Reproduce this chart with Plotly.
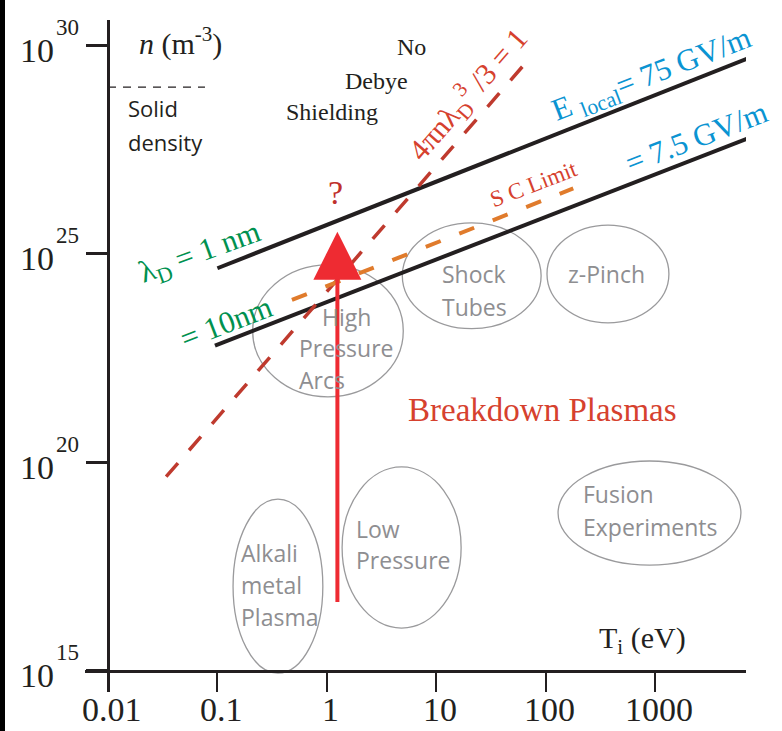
import math
import plotly.graph_objects as go

# ---------------- data (T in eV, n in m^-3) ----------------
x_tick_vals = [0.01, 0.1, 1, 10, 100, 1000]
x_tick_labels = ["0.01", "0.1", "1", "10", "100", "1000"]
y_tick_vals = [1e15, 1e20, 1e25, 1e30]
y_tick_exps = ["15", "20", "25", "30"]

lam1_T = [0.1, 7100]          # lambda_D = 1 nm  (E_local = 75 GV/m)
lam1_n = [4.5e24, 4.9e29]
lam10_T = [0.095, 8500]       # lambda_D = 10 nm (E_local = 7.5 GV/m)
lam10_n = [6.3e22, 7.1e27]
debye_T = [0.034, 69.5]       # 4 pi n lambda_D^3 / 3 = 1
debye_n = [4.5e19, 4.5e29]
sc_T = [0.48, 179]            # space-charge limit
sc_n = [7.8e23, 3.7e26]
solid_T = [0.01, 0.077]       # solid density
solid_n = [1e29, 1e29]
arrow_T = [1.25, 1.25]        # breakdown arrow
arrow_n = [4.1e16, 3.4e25]

region_names = ["High Pressure Arcs", "Shock Tubes", "z-Pinch",
                "Alkali metal Plasma", "Low Pressure", "Fusion Experiments"]
region_T_lo = [0.21, 4.9, 103, 0.139, 1.38, 130]
region_T_hi = [5.0, 91, 1340, 0.92, 16.9, 6100]
region_n_lo = [3.7e21, 1.6e23, 2.2e23, 8.7e14, 1.05e16, 3.4e17]
region_n_hi = [5.4e24, 5.5e25, 4.9e25, 1.3e19, 7.7e19, 1.07e20]

# ---------------- layout calibration (pixels) ----------------
W, H = 782, 731
X0PX, XDEC = 108.0, 109.4     # pixel of T=0.01, pixels per decade
Y15PX, YDEC = 670.6, 41.68    # pixel of n=1e15, pixels per decade


def lx(px):
    return -2 + (px - X0PX) / XDEC


def ly(py):
    return 15 + (Y15PX - py) / YDEC


def fx(px):
    return px / W


def fy(py):
    return 1 - py / H


SERIF = "Liberation Serif"
SANS = "Open Sans"
INK = "#231f20"
GRAY = "#8e8e91"
GREEN = "#00914f"
BLUE = "#0a94d2"
RED_T = "#d6412e"

fig = go.Figure()


def line(T, n, color, width, dash="solid"):
    fig.add_trace(go.Scatter(x=T, y=n, mode="lines", cliponaxis=False,
                             line=dict(color=color, width=width, dash=dash),
                             showlegend=False, hoverinfo="skip"))


line(solid_T, solid_n, INK, 1.4, "8px,7px")
line(lam1_T, lam1_n, INK, 4)
line(lam10_T, lam10_n, INK, 4)
line(debye_T, debye_n, "#bf3a2e", 3.5, "18px,17px")
line(sc_T, sc_n, "#e07b2c", 4, "16px,20px")

shapes = []
for i in range(len(region_names)):
    shapes.append(dict(type="circle", xref="x", yref="y", layer="below",
                       x0=region_T_lo[i], x1=region_T_hi[i],
                       y0=region_n_lo[i], y1=region_n_hi[i],
                       line=dict(color="#9a9a9c", width=1.3)))
# black border strip at the left edge
shapes.append(dict(type="rect", xref="paper", yref="paper", x0=0, x1=fx(5),
                   y0=0, y1=1, fillcolor="black", line=dict(width=0)))

ann = []


def text(t, px, py, size, color, family=SERIF, angle=0, xanchor="center"):
    ann.append(dict(text=t, x=fx(px), y=fy(py), xref="paper", yref="paper",
                    showarrow=False, textangle=angle, xanchor=xanchor,
                    yanchor="middle", font=dict(family=family, size=size, color=color)))


# x tick labels
for v, t in zip(x_tick_vals, x_tick_labels):
    ann.append(dict(text=t, x=math.log10(v), y=fy(709), xref="x", yref="paper",
                    showarrow=False, xanchor="center", yanchor="middle", xshift=4,
                    font=dict(family=SERIF, size=34, color=INK)))

# y tick labels 10^k
for v, e in zip(y_tick_vals, y_tick_exps):
    ann.append(dict(text="10", x=fx(56), y=math.log10(v), xref="paper", yref="y",
                    showarrow=False, xanchor="right", yanchor="middle", yshift=-5,
                    font=dict(family=SERIF, size=34, color=INK)))
    ann.append(dict(text=e, x=fx(54), y=math.log10(v), xref="paper", yref="y",
                    showarrow=False, xanchor="left", yanchor="middle", yshift=18,
                    font=dict(family=SERIF, size=23, color=INK)))

# axis arrow heads
ann.append(dict(text="", x=lx(756), y=15, xref="x", yref="y", ax=-26, ay=0,
                showarrow=True, arrowhead=3, arrowsize=1.45, arrowwidth=3,
                arrowcolor=INK))
ann.append(dict(text="", x=-2, y=ly(7), xref="x", yref="y", ax=0, ay=26,
                showarrow=True, arrowhead=3, arrowsize=1.45, arrowwidth=3,
                arrowcolor=INK))
# breakdown arrow
ann.append(dict(text="", x=math.log10(arrow_T[1]), y=math.log10(arrow_n[1]),
                ax=math.log10(arrow_T[0]), ay=math.log10(arrow_n[0]),
                xref="x", yref="y", axref="x", ayref="y", showarrow=True,
                arrowhead=2, arrowsize=2.4, arrowwidth=4, arrowcolor="#ee2b32"))

# axis titles
text("<i>n</i> (m<sup>-3</sup>)", 180, 41, 30, INK)
text("T<sub>i</sub> (eV)", 597, 640, 30, INK, xanchor="left")

# region labels
text("No", 411, 47, 24, INK)
text("Debye", 376, 81, 24, INK)
text("Shielding", 332, 112, 24, INK)
text("Solid", 126, 108, 22, INK, SANS, xanchor="left")
text("density", 126, 142, 22, INK, SANS, xanchor="left")
text("?", 335, 192, 34, "#c0302b")
text("Breakdown Plasmas", 542, 410, 33, RED_T)

# rotated labels
text("λ<sub>D</sub> = 1 nm", 200, 254, 31, GREEN, angle=-20)
text("= 10nm", 226, 322, 31, GREEN, angle=-21)
text("E <sub>local</sub>= 75 GV/m", 652, 76, 31, BLUE, angle=-21)
text("= 7.5 GV/m", 696, 138, 31, BLUE, angle=-21)
text("4πnλ<sub>D</sub><sup>3</sup> /3 = 1", 468, 95, 30, RED_T, angle=-49)
text("S C Limit", 533, 184, 23, RED_T, angle=-21)

# ellipse labels
for t, px, py in [("High", 320, 317), ("Pressure", 297, 348), ("Arcs", 297, 380),
                  ("Shock", 440, 274), ("Tubes", 440, 307), ("z-Pinch", 566, 274),
                  ("Alkali", 239, 553), ("metal", 239, 585), ("Plasma", 239, 617),
                  ("Low", 354, 529), ("Pressure", 354, 560),
                  ("Fusion", 581, 494), ("Experiments", 581, 527)]:
    text(t, px, py, 23, GRAY, SANS, xanchor="left")

fig.update_layout(
    width=W, height=H, margin=dict(l=0, r=0, t=0, b=0, autoexpand=False),
    paper_bgcolor="white", plot_bgcolor="white",
    shapes=shapes, annotations=ann, showlegend=False,
    xaxis=dict(type="log", domain=[fx(85), fx(746)], range=[lx(85), lx(746)],
               anchor="free", position=fy(Y15PX), showline=True, linecolor=INK,
               linewidth=3, ticks="outside", ticklen=19, tickwidth=1.5,
               tickcolor=INK, tickvals=x_tick_vals, showticklabels=False,
               showgrid=False, zeroline=False, automargin=False),
    yaxis=dict(type="log", domain=[fy(692), fy(20)], range=[ly(692), ly(20)],
               anchor="free", position=fx(X0PX), showline=True, linecolor=INK,
               linewidth=3, ticks="outside", ticklen=21, tickwidth=3,
               tickcolor=INK, tickvals=y_tick_vals, showticklabels=False,
               showgrid=False, zeroline=False, automargin=False),
)

fig.write_html("out.html", config={"displayModeBar": False},
               post_script="document.body.style.margin='0px';"
                           "document.body.style.overflow='hidden';")
